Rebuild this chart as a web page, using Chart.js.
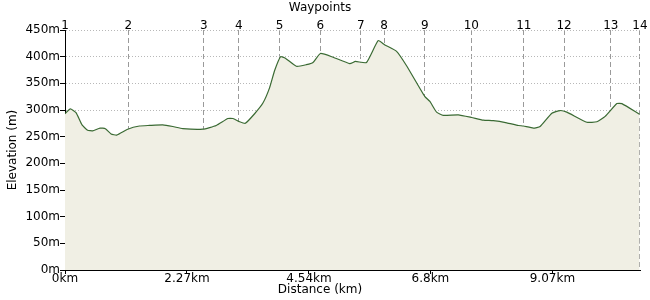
<!DOCTYPE html>
<html>
<head>
<meta charset="utf-8">
<script src="https://cdn.jsdelivr.net/npm/chart.js@4"></script>
<style>
  html, body { margin: 0; padding: 0; background: #fff; }
</style>
</head>
<body>
<canvas id="profile" width="650" height="300"></canvas>
<script>
// Route profile (distance in km, elevation in m)
const distanceKm = [
  0, 0.099, 0.205, 0.317, 0.421, 0.514, 0.652, 0.751, 0.858, 0.962,
  1.167, 1.385, 1.571, 1.819, 2.006, 2.192, 2.565, 2.815, 3.031, 3.124,
  3.249, 3.355, 3.528, 3.683, 3.808, 3.901, 4.013, 4.101, 4.306, 4.492,
  4.615, 4.753, 4.988, 5.299, 5.405, 5.610, 5.827, 5.952, 6.170, 6.356,
  6.697, 6.790, 6.915, 7.038, 7.318, 7.567, 7.784, 7.970, 8.220, 8.436,
  8.529, 8.715, 8.841, 9.059, 9.213, 9.338, 9.711, 9.897, 10.052, 10.270,
  10.363, 10.691
];
const elevationM = [
  293, 302, 295, 272, 262, 261, 266, 265, 255, 253,
  264, 270, 271, 272, 269, 265, 264, 271, 284, 284,
  278, 275, 293, 313, 342, 374, 400, 397, 382, 385,
  389, 406, 399, 387, 391, 389, 430, 422, 410, 383,
  325, 316, 296, 290, 291, 286, 281, 280, 276, 271,
  270, 266, 269, 294, 299, 296, 277, 278, 288, 312,
  312, 292
];

// Waypoint markers
const waypointKm = [0, 1.18, 2.583, 3.236, 3.994, 4.753, 5.504, 5.938, 6.697, 7.56, 8.537, 9.288, 10.158, 10.699];
const waypointLabels = ["1", "2", "3", "4", "5", "6", "7", "8", "9", "10", "11", "12", "13", "14"];

// Axis ticks
const distanceTicks = [0, 2.27, 4.54, 6.8, 9.07];
const distanceTickLabels = ["0km", "2.27km", "4.54km", "6.8km", "9.07km"];
const routeLengthKm = 10.7;

const font = { family: "DejaVu Sans", size: 12 };

new Chart(document.getElementById("profile"), {
  type: "line",
  data: {
    datasets: [
      {
        data: distanceKm.map((d, i) => ({ x: d, y: elevationM[i] })),
        borderColor: "#3a6a33",
        borderWidth: 1.2,
        backgroundColor: "#f0efe4",
        fill: "origin",
        pointRadius: 0,
        tension: 0.15,
        xAxisID: "x",
        yAxisID: "y",
      },
    ],
  },
  options: {
    responsive: false,
    animation: false,
    layout: { padding: { left: 0, right: 10, top: 0, bottom: 0 } },
    plugins: {
      legend: { display: false },
      tooltip: { enabled: false },
      title: {
        display: true,
        text: "Waypoints",
        color: "#000",
        font: { family: "DejaVu Sans", size: 12, weight: "normal" },
        padding: { top: 1, bottom: 0 },
      },
      subtitle: {
        display: true,
        position: "bottom",
        text: "Distance (km)",
        color: "#000",
        font: { family: "DejaVu Sans", size: 12, weight: "normal" },
        padding: { top: 0, bottom: 3 },
      },
    },
    scales: {
      x: {
        type: "linear",
        position: "bottom",
        min: 0,
        max: routeLengthKm,
        afterBuildTicks: (scale) => {
          scale.ticks = distanceTicks.map((v) => ({ value: v }));
        },
        afterFit: (scale) => {
          scale.height = 12.6;
        },
        ticks: {
          autoSkip: false,
          maxRotation: 0,
          padding: -2,
          color: "#000",
          font: font,
          callback: (value, index) => distanceTickLabels[index],
        },
        grid: {
          drawOnChartArea: false,
          drawTicks: true,
          tickLength: 4,
          color: "#000",
        },
        border: { color: "#000" },
      },
      wp: {
        type: "linear",
        position: "top",
        min: 0,
        max: routeLengthKm,
        z: 1,
        afterBuildTicks: (scale) => {
          scale.ticks = waypointKm.map((v) => ({ value: v }));
        },
        afterFit: (scale) => {
          scale.height = 14.6;
        },
        ticks: {
          autoSkip: false,
          maxRotation: 0,
          padding: -3,
          color: "#000",
          font: font,
          callback: (value, index) => waypointLabels[index],
        },
        grid: {
          drawTicks: false,
          color: "#9a9a9a",
          lineWidth: 1,
        },
        border: { display: false, dash: [5, 3] },
      },
      y: {
        min: 0,
        max: 450,
        afterFit: (scale) => {
          scale.width = 65;
        },
        ticks: {
          stepSize: 50,
          padding: 0,
          color: "#000",
          font: font,
          callback: (value) => value + "m",
        },
        grid: {
          color: "#b8b8b8",
          tickColor: "#000",
          tickLength: 5,
        },
        border: { color: "#000", dash: [1, 2] },
        title: {
          display: true,
          text: "Elevation (m)",
          color: "#000",
          font: font,
          padding: { top: 6, bottom: 0 },
        },
      },
    },
  },
});
</script>
</body>
</html>
